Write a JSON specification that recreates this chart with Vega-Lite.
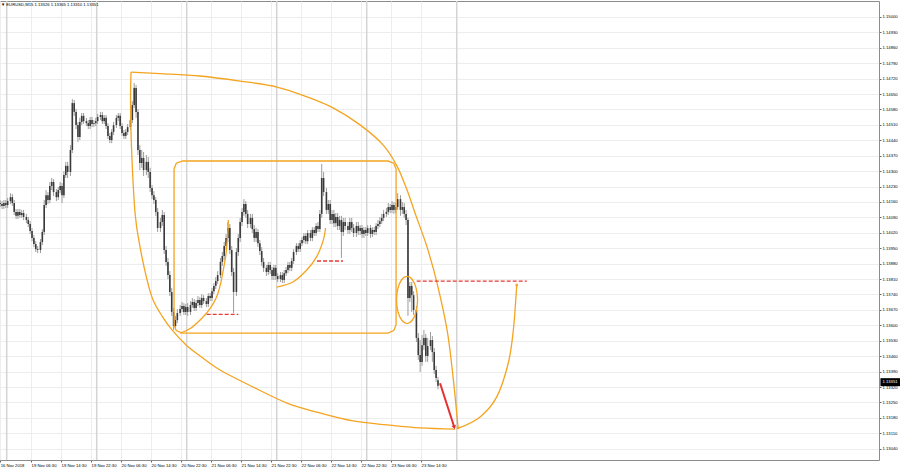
{
"$schema":"https://vega.github.io/schema/vega-lite/v6.json",
"width":879,"height":459,
"autosize":"none",
"padding":{"left":0,"top":1,"right":21,"bottom":10},
"background":"#ffffff",
"config":{"view":{"stroke":"#8c8c8c","strokeWidth":1}},
"title":{"text":"▼ EURUSD,M15  1.13326 1.13365 1.13310 1.13351","anchor":"start","frame":"group","orient":"top","baseline":"top","offset":-7,"dx":1,"fontSize":4.2,"font":"Liberation Sans","fontWeight":"normal","color":"#000000"},
"datasets":{
"seps":[{"t":0},{"t":96},{"t":192},{"t":288},{"t":384},{"t":480}],
"candles":[
{"t":-7,"o":1.14155,"h":1.14169,"l":1.14137,"c":1.14151},
{"t":-5,"o":1.14151,"h":1.14164,"l":1.14128,"c":1.14142},
{"t":-3,"o":1.14142,"h":1.14169,"l":1.14128,"c":1.14155},
{"t":-1,"o":1.14155,"h":1.14169,"l":1.14133,"c":1.14146},
{"t":1,"o":1.14146,"h":1.14178,"l":1.14133,"c":1.14164},
{"t":4,"o":1.14164,"h":1.142,"l":1.14151,"c":1.14182},
{"t":6,"o":1.14182,"h":1.14196,"l":1.14142,"c":1.14155},
{"t":8,"o":1.14155,"h":1.14169,"l":1.14101,"c":1.14115},
{"t":10,"o":1.14115,"h":1.14128,"l":1.14083,"c":1.14097},
{"t":12,"o":1.14097,"h":1.14128,"l":1.14083,"c":1.14115},
{"t":14,"o":1.14115,"h":1.14128,"l":1.14088,"c":1.14101},
{"t":16,"o":1.14101,"h":1.14124,"l":1.14088,"c":1.1411},
{"t":18,"o":1.1411,"h":1.14124,"l":1.14078,"c":1.14092},
{"t":21,"o":1.14092,"h":1.14106,"l":1.14064,"c":1.14078},
{"t":23,"o":1.14078,"h":1.14092,"l":1.14046,"c":1.1406},
{"t":25,"o":1.1406,"h":1.14073,"l":1.14015,"c":1.14028},
{"t":27,"o":1.14028,"h":1.14042,"l":1.13982,"c":1.13997},
{"t":29,"o":1.13997,"h":1.1401,"l":1.13955,"c":1.13969},
{"t":31,"o":1.13969,"h":1.13982,"l":1.13933,"c":1.13946},
{"t":33,"o":1.13946,"h":1.1396,"l":1.13928,"c":1.13942},
{"t":36,"o":1.13942,"h":1.13992,"l":1.13928,"c":1.13978},
{"t":38,"o":1.13978,"h":1.14037,"l":1.13964,"c":1.14024},
{"t":40,"o":1.14024,"h":1.14169,"l":1.1401,"c":1.14146},
{"t":42,"o":1.14146,"h":1.14214,"l":1.14133,"c":1.14191},
{"t":44,"o":1.14191,"h":1.14205,"l":1.14151,"c":1.14169},
{"t":46,"o":1.14169,"h":1.14251,"l":1.14155,"c":1.14233},
{"t":48,"o":1.14233,"h":1.14269,"l":1.14214,"c":1.14251},
{"t":50,"o":1.14251,"h":1.14264,"l":1.14187,"c":1.14205},
{"t":53,"o":1.14205,"h":1.14219,"l":1.14164,"c":1.14182},
{"t":55,"o":1.14182,"h":1.14228,"l":1.14169,"c":1.14214},
{"t":57,"o":1.14214,"h":1.14251,"l":1.142,"c":1.14233},
{"t":59,"o":1.14233,"h":1.14246,"l":1.14155,"c":1.14191},
{"t":61,"o":1.14191,"h":1.143,"l":1.14178,"c":1.14282},
{"t":63,"o":1.14282,"h":1.14342,"l":1.14269,"c":1.14324},
{"t":65,"o":1.14324,"h":1.14342,"l":1.14269,"c":1.14296},
{"t":68,"o":1.14296,"h":1.14418,"l":1.14278,"c":1.14396},
{"t":70,"o":1.14396,"h":1.14627,"l":1.14382,"c":1.14609},
{"t":72,"o":1.14609,"h":1.14623,"l":1.14551,"c":1.14569},
{"t":74,"o":1.14569,"h":1.14582,"l":1.14491,"c":1.14509},
{"t":76,"o":1.14509,"h":1.14523,"l":1.14432,"c":1.14455},
{"t":78,"o":1.14455,"h":1.14542,"l":1.14441,"c":1.14523},
{"t":80,"o":1.14523,"h":1.14564,"l":1.14509,"c":1.14551},
{"t":82,"o":1.14551,"h":1.14564,"l":1.14514,"c":1.14527},
{"t":85,"o":1.14527,"h":1.14542,"l":1.14505,"c":1.14518},
{"t":87,"o":1.14518,"h":1.14532,"l":1.14491,"c":1.14505},
{"t":89,"o":1.14505,"h":1.14546,"l":1.14491,"c":1.14532},
{"t":91,"o":1.14532,"h":1.14546,"l":1.145,"c":1.14514},
{"t":93,"o":1.14514,"h":1.14532,"l":1.145,"c":1.14518},
{"t":95,"o":1.14518,"h":1.14542,"l":1.14505,"c":1.14527},
{"t":97,"o":1.14527,"h":1.1456,"l":1.14514,"c":1.14546},
{"t":100,"o":1.14546,"h":1.14569,"l":1.14532,"c":1.14555},
{"t":102,"o":1.14555,"h":1.14569,"l":1.14514,"c":1.14527},
{"t":104,"o":1.14527,"h":1.14555,"l":1.14514,"c":1.14542},
{"t":106,"o":1.14542,"h":1.14555,"l":1.14491,"c":1.14505},
{"t":108,"o":1.14505,"h":1.14518,"l":1.14446,"c":1.1446},
{"t":110,"o":1.1446,"h":1.14473,"l":1.14427,"c":1.14441},
{"t":112,"o":1.14441,"h":1.14491,"l":1.14427,"c":1.14478},
{"t":114,"o":1.14478,"h":1.14523,"l":1.14464,"c":1.14509},
{"t":117,"o":1.14509,"h":1.14555,"l":1.14496,"c":1.14542},
{"t":119,"o":1.14542,"h":1.14564,"l":1.14527,"c":1.14551},
{"t":121,"o":1.14551,"h":1.14564,"l":1.14491,"c":1.14505},
{"t":123,"o":1.14505,"h":1.14518,"l":1.1446,"c":1.14473},
{"t":125,"o":1.14473,"h":1.14487,"l":1.14446,"c":1.1446},
{"t":127,"o":1.1446,"h":1.14491,"l":1.14446,"c":1.14478},
{"t":129,"o":1.14478,"h":1.14514,"l":1.14464,"c":1.145},
{"t":132,"o":1.145,"h":1.14551,"l":1.14487,"c":1.14532},
{"t":134,"o":1.14532,"h":1.14618,"l":1.14518,"c":1.146},
{"t":136,"o":1.146,"h":1.147,"l":1.14587,"c":1.14678},
{"t":138,"o":1.14678,"h":1.14691,"l":1.14542,"c":1.14569},
{"t":140,"o":1.14569,"h":1.14582,"l":1.14373,"c":1.14396},
{"t":142,"o":1.14396,"h":1.14418,"l":1.14305,"c":1.14337},
{"t":144,"o":1.14337,"h":1.14396,"l":1.14315,"c":1.1436},
{"t":146,"o":1.1436,"h":1.14387,"l":1.14278,"c":1.14305},
{"t":149,"o":1.14305,"h":1.14373,"l":1.14282,"c":1.14342},
{"t":151,"o":1.14342,"h":1.14364,"l":1.14269,"c":1.14296},
{"t":153,"o":1.14296,"h":1.14315,"l":1.14205,"c":1.14224},
{"t":155,"o":1.14224,"h":1.14237,"l":1.14173,"c":1.14191},
{"t":157,"o":1.14191,"h":1.14209,"l":1.14151,"c":1.14169},
{"t":159,"o":1.14169,"h":1.14182,"l":1.14097,"c":1.14115},
{"t":161,"o":1.14115,"h":1.14133,"l":1.14024,"c":1.14042},
{"t":164,"o":1.14042,"h":1.14088,"l":1.14024,"c":1.14069},
{"t":166,"o":1.14069,"h":1.14124,"l":1.14051,"c":1.14101},
{"t":168,"o":1.14101,"h":1.14115,"l":1.13924,"c":1.13942},
{"t":170,"o":1.13942,"h":1.1396,"l":1.1387,"c":1.13888},
{"t":172,"o":1.13888,"h":1.13906,"l":1.1381,"c":1.13828},
{"t":174,"o":1.13828,"h":1.13846,"l":1.13733,"c":1.13751},
{"t":176,"o":1.13751,"h":1.1377,"l":1.13643,"c":1.13661},
{"t":178,"o":1.13661,"h":1.13679,"l":1.13579,"c":1.13597},
{"t":180,"o":1.13597,"h":1.13643,"l":1.13583,"c":1.13624},
{"t":182,"o":1.13624,"h":1.13674,"l":1.1361,"c":1.13656},
{"t":185,"o":1.13656,"h":1.13692,"l":1.13643,"c":1.13674},
{"t":187,"o":1.13674,"h":1.13706,"l":1.13661,"c":1.13688},
{"t":189,"o":1.13688,"h":1.13701,"l":1.13647,"c":1.13661},
{"t":191,"o":1.13661,"h":1.13697,"l":1.13647,"c":1.13683},
{"t":193,"o":1.13683,"h":1.13701,"l":1.13643,"c":1.13661},
{"t":196,"o":1.13661,"h":1.1371,"l":1.13647,"c":1.13692},
{"t":198,"o":1.13692,"h":1.13724,"l":1.13679,"c":1.13706},
{"t":200,"o":1.13706,"h":1.13719,"l":1.13665,"c":1.13679},
{"t":202,"o":1.13679,"h":1.13715,"l":1.13665,"c":1.13701},
{"t":204,"o":1.13701,"h":1.13733,"l":1.13688,"c":1.13715},
{"t":206,"o":1.13715,"h":1.13728,"l":1.13679,"c":1.13692},
{"t":208,"o":1.13692,"h":1.13742,"l":1.13679,"c":1.13724},
{"t":210,"o":1.13724,"h":1.13737,"l":1.13697,"c":1.1371},
{"t":213,"o":1.1371,"h":1.13724,"l":1.13683,"c":1.13697},
{"t":215,"o":1.13697,"h":1.13746,"l":1.13683,"c":1.13733},
{"t":217,"o":1.13733,"h":1.13746,"l":1.1371,"c":1.13724},
{"t":219,"o":1.13724,"h":1.1377,"l":1.1371,"c":1.13755},
{"t":221,"o":1.13755,"h":1.13792,"l":1.13742,"c":1.13779},
{"t":223,"o":1.13779,"h":1.13819,"l":1.13765,"c":1.13801},
{"t":225,"o":1.13801,"h":1.13846,"l":1.13788,"c":1.13828},
{"t":228,"o":1.13828,"h":1.13906,"l":1.13815,"c":1.13888},
{"t":230,"o":1.13888,"h":1.13933,"l":1.1387,"c":1.13915},
{"t":232,"o":1.13915,"h":1.13978,"l":1.13897,"c":1.1396},
{"t":234,"o":1.1396,"h":1.14015,"l":1.13942,"c":1.13997},
{"t":236,"o":1.13997,"h":1.14069,"l":1.13978,"c":1.14042},
{"t":238,"o":1.14042,"h":1.1406,"l":1.13924,"c":1.13942},
{"t":240,"o":1.13942,"h":1.1396,"l":1.13824,"c":1.13842},
{"t":242,"o":1.13842,"h":1.13861,"l":1.13656,"c":1.13751},
{"t":245,"o":1.13751,"h":1.13951,"l":1.13733,"c":1.13933},
{"t":247,"o":1.13933,"h":1.14015,"l":1.13915,"c":1.13997},
{"t":249,"o":1.13997,"h":1.14088,"l":1.13978,"c":1.14069},
{"t":251,"o":1.14069,"h":1.14133,"l":1.14051,"c":1.14115},
{"t":253,"o":1.14115,"h":1.14173,"l":1.14097,"c":1.14151},
{"t":255,"o":1.14151,"h":1.14164,"l":1.14088,"c":1.14106},
{"t":257,"o":1.14106,"h":1.14124,"l":1.14042,"c":1.1406},
{"t":260,"o":1.1406,"h":1.14106,"l":1.14042,"c":1.14088},
{"t":262,"o":1.14088,"h":1.14106,"l":1.14019,"c":1.14037},
{"t":264,"o":1.14037,"h":1.14055,"l":1.13978,"c":1.13997},
{"t":266,"o":1.13997,"h":1.14042,"l":1.13978,"c":1.14024},
{"t":268,"o":1.14024,"h":1.14037,"l":1.13955,"c":1.13973},
{"t":270,"o":1.13973,"h":1.13987,"l":1.13919,"c":1.13937},
{"t":272,"o":1.13937,"h":1.13955,"l":1.1387,"c":1.13888},
{"t":274,"o":1.13888,"h":1.13906,"l":1.13842,"c":1.13861},
{"t":277,"o":1.13861,"h":1.13874,"l":1.13824,"c":1.13842},
{"t":279,"o":1.13842,"h":1.13888,"l":1.13828,"c":1.13874},
{"t":281,"o":1.13874,"h":1.13888,"l":1.13833,"c":1.13851},
{"t":283,"o":1.13851,"h":1.13865,"l":1.13806,"c":1.13824},
{"t":285,"o":1.13824,"h":1.13874,"l":1.13806,"c":1.13861},
{"t":287,"o":1.13861,"h":1.13874,"l":1.13806,"c":1.13824},
{"t":289,"o":1.13824,"h":1.13837,"l":1.13797,"c":1.1381},
{"t":292,"o":1.1381,"h":1.13842,"l":1.13797,"c":1.13828},
{"t":294,"o":1.13828,"h":1.13842,"l":1.13792,"c":1.13806},
{"t":296,"o":1.13806,"h":1.13851,"l":1.13792,"c":1.13837},
{"t":298,"o":1.13837,"h":1.13865,"l":1.13824,"c":1.13851},
{"t":300,"o":1.13851,"h":1.13888,"l":1.13837,"c":1.13874},
{"t":302,"o":1.13874,"h":1.13888,"l":1.13846,"c":1.13861},
{"t":304,"o":1.13861,"h":1.13906,"l":1.13846,"c":1.13892},
{"t":306,"o":1.13892,"h":1.13946,"l":1.13879,"c":1.13933},
{"t":309,"o":1.13933,"h":1.13973,"l":1.13919,"c":1.1396},
{"t":311,"o":1.1396,"h":1.13973,"l":1.13933,"c":1.13946},
{"t":313,"o":1.13946,"h":1.13987,"l":1.13933,"c":1.13973},
{"t":315,"o":1.13973,"h":1.14001,"l":1.1396,"c":1.13987},
{"t":317,"o":1.13987,"h":1.14019,"l":1.13973,"c":1.14006},
{"t":319,"o":1.14006,"h":1.14019,"l":1.13969,"c":1.13982},
{"t":321,"o":1.13982,"h":1.14033,"l":1.13969,"c":1.14019},
{"t":324,"o":1.14019,"h":1.14033,"l":1.13982,"c":1.13997},
{"t":326,"o":1.13997,"h":1.14046,"l":1.13982,"c":1.14033},
{"t":328,"o":1.14033,"h":1.14046,"l":1.14006,"c":1.14019},
{"t":330,"o":1.14019,"h":1.14064,"l":1.14006,"c":1.14051},
{"t":332,"o":1.14051,"h":1.14069,"l":1.14024,"c":1.14037},
{"t":334,"o":1.14037,"h":1.14124,"l":1.14024,"c":1.14106},
{"t":336,"o":1.14106,"h":1.14333,"l":1.14088,"c":1.14269},
{"t":338,"o":1.14269,"h":1.14296,"l":1.14187,"c":1.14205},
{"t":341,"o":1.14205,"h":1.14224,"l":1.14106,"c":1.14124},
{"t":343,"o":1.14124,"h":1.14169,"l":1.14106,"c":1.14151},
{"t":345,"o":1.14151,"h":1.14169,"l":1.1406,"c":1.14078},
{"t":347,"o":1.14078,"h":1.14124,"l":1.1406,"c":1.14106},
{"t":349,"o":1.14106,"h":1.14124,"l":1.14046,"c":1.14064},
{"t":351,"o":1.14064,"h":1.1411,"l":1.14046,"c":1.14092},
{"t":353,"o":1.14092,"h":1.1411,"l":1.14033,"c":1.14051},
{"t":355,"o":1.14051,"h":1.14097,"l":1.14033,"c":1.14078},
{"t":357,"o":1.14078,"h":1.14097,"l":1.13906,"c":1.14024},
{"t":359,"o":1.14024,"h":1.14088,"l":1.14006,"c":1.14069},
{"t":361,"o":1.14069,"h":1.14088,"l":1.14033,"c":1.14051},
{"t":364,"o":1.14051,"h":1.14069,"l":1.14015,"c":1.14033},
{"t":366,"o":1.14033,"h":1.14088,"l":1.14015,"c":1.14069},
{"t":368,"o":1.14069,"h":1.14088,"l":1.14024,"c":1.14042},
{"t":370,"o":1.14042,"h":1.1406,"l":1.14001,"c":1.14019},
{"t":373,"o":1.14019,"h":1.14069,"l":1.14001,"c":1.14051},
{"t":375,"o":1.14051,"h":1.14069,"l":1.1401,"c":1.14028},
{"t":377,"o":1.14028,"h":1.14055,"l":1.1401,"c":1.14042},
{"t":379,"o":1.14042,"h":1.14055,"l":1.13997,"c":1.14015},
{"t":381,"o":1.14015,"h":1.14046,"l":1.13997,"c":1.14033},
{"t":383,"o":1.14033,"h":1.14046,"l":1.14006,"c":1.14019},
{"t":385,"o":1.14019,"h":1.14055,"l":1.14006,"c":1.14042},
{"t":388,"o":1.14042,"h":1.14055,"l":1.13997,"c":1.14015},
{"t":390,"o":1.14015,"h":1.14046,"l":1.14001,"c":1.14033},
{"t":392,"o":1.14033,"h":1.14046,"l":1.1401,"c":1.14024},
{"t":394,"o":1.14024,"h":1.14064,"l":1.1401,"c":1.14051},
{"t":396,"o":1.14051,"h":1.14078,"l":1.14037,"c":1.1406},
{"t":398,"o":1.1406,"h":1.14092,"l":1.14046,"c":1.14073},
{"t":400,"o":1.14073,"h":1.14106,"l":1.1406,"c":1.14088},
{"t":402,"o":1.14088,"h":1.14124,"l":1.14073,"c":1.14106},
{"t":405,"o":1.14106,"h":1.14133,"l":1.14092,"c":1.14115},
{"t":407,"o":1.14115,"h":1.14155,"l":1.14101,"c":1.14137},
{"t":409,"o":1.14137,"h":1.14151,"l":1.1411,"c":1.14124},
{"t":411,"o":1.14124,"h":1.14164,"l":1.1411,"c":1.14146},
{"t":413,"o":1.14146,"h":1.1416,"l":1.14106,"c":1.14124},
{"t":415,"o":1.14124,"h":1.14155,"l":1.1411,"c":1.14137},
{"t":417,"o":1.14137,"h":1.142,"l":1.14124,"c":1.14173},
{"t":420,"o":1.14173,"h":1.14191,"l":1.14097,"c":1.14124},
{"t":422,"o":1.14124,"h":1.1416,"l":1.14106,"c":1.14137},
{"t":424,"o":1.14137,"h":1.14155,"l":1.14088,"c":1.14106},
{"t":426,"o":1.14106,"h":1.14124,"l":1.14055,"c":1.14078},
{"t":428,"o":1.14078,"h":1.14088,"l":1.13643,"c":1.13724},
{"t":430,"o":1.13724,"h":1.13797,"l":1.13706,"c":1.13779},
{"t":432,"o":1.13779,"h":1.13797,"l":1.13661,"c":1.13737},
{"t":434,"o":1.13737,"h":1.13755,"l":1.13647,"c":1.1367},
{"t":437,"o":1.1367,"h":1.13688,"l":1.13524,"c":1.13543},
{"t":439,"o":1.13543,"h":1.13565,"l":1.13443,"c":1.13465},
{"t":441,"o":1.13465,"h":1.13533,"l":1.13388,"c":1.13434},
{"t":443,"o":1.13434,"h":1.13556,"l":1.13416,"c":1.1351},
{"t":445,"o":1.1351,"h":1.13579,"l":1.13488,"c":1.13543},
{"t":447,"o":1.13543,"h":1.13561,"l":1.13434,"c":1.13461},
{"t":449,"o":1.13461,"h":1.13543,"l":1.13434,"c":1.13506},
{"t":452,"o":1.13506,"h":1.1357,"l":1.13488,"c":1.13533},
{"t":454,"o":1.13533,"h":1.13552,"l":1.13434,"c":1.13479},
{"t":456,"o":1.13479,"h":1.13497,"l":1.13379,"c":1.13397},
{"t":458,"o":1.13397,"h":1.13416,"l":1.13343,"c":1.13361},
{"t":460,"o":1.13326,"h":1.13365,"l":1.1331,"c":1.13351}
],
"curves":[
{"shape":"lensTop","i":0,"t":132.6,"p":1.1475},
{"shape":"lensTop","i":1,"t":163.5,"p":1.14743},
{"shape":"lensTop","i":2,"t":206.2,"p":1.14732},
{"shape":"lensTop","i":3,"t":248.9,"p":1.14709},
{"shape":"lensTop","i":4,"t":288.3,"p":1.14682},
{"shape":"lensTop","i":5,"t":320.3,"p":1.14637},
{"shape":"lensTop","i":6,"t":348.1,"p":1.14587},
{"shape":"lensTop","i":7,"t":376.9,"p":1.1451},
{"shape":"lensTop","i":8,"t":401.4,"p":1.14419},
{"shape":"lensTop","i":9,"t":416.3,"p":1.14323},
{"shape":"lensTop","i":10,"t":427.0,"p":1.14214},
{"shape":"lensTop","i":11,"t":435.5,"p":1.1411},
{"shape":"lensTop","i":12,"t":448.3,"p":1.13956},
{"shape":"lensTop","i":13,"t":459.0,"p":1.13792},
{"shape":"lensTop","i":14,"t":469.7,"p":1.13579},
{"shape":"lensTop","i":15,"t":476.1,"p":1.13365},
{"shape":"lensTop","i":16,"t":481.4,"p":1.13138},
{"shape":"lensBottom","i":0,"t":132.6,"p":1.1475},
{"shape":"lensBottom","i":1,"t":132.1,"p":1.14623},
{"shape":"lensBottom","i":2,"t":133.1,"p":1.1441},
{"shape":"lensBottom","i":3,"t":136.9,"p":1.1411},
{"shape":"lensBottom","i":4,"t":142.2,"p":1.13956},
{"shape":"lensBottom","i":5,"t":149.7,"p":1.13806},
{"shape":"lensBottom","i":6,"t":156.1,"p":1.13715},
{"shape":"lensBottom","i":7,"t":165.7,"p":1.13642},
{"shape":"lensBottom","i":8,"t":176.3,"p":1.13579},
{"shape":"lensBottom","i":9,"t":191.3,"p":1.13511},
{"shape":"lensBottom","i":10,"t":206.2,"p":1.13461},
{"shape":"lensBottom","i":11,"t":227.5,"p":1.13397},
{"shape":"lensBottom","i":12,"t":262.7,"p":1.1332},
{"shape":"lensBottom","i":13,"t":299.0,"p":1.13247},
{"shape":"lensBottom","i":14,"t":334.2,"p":1.13202},
{"shape":"lensBottom","i":15,"t":369.4,"p":1.13166},
{"shape":"lensBottom","i":16,"t":405.7,"p":1.13148},
{"shape":"lensBottom","i":17,"t":440.9,"p":1.13134},
{"shape":"lensBottom","i":18,"t":478.2,"p":1.13129},
{"shape":"arc1","i":0,"t":184.9,"p":1.13564},
{"shape":"arc1","i":1,"t":196.6,"p":1.13588},
{"shape":"arc1","i":2,"t":209.7,"p":1.13639},
{"shape":"arc1","i":3,"t":217.9,"p":1.13683},
{"shape":"arc1","i":4,"t":224.0,"p":1.1373},
{"shape":"arc1","i":5,"t":228.1,"p":1.13788},
{"shape":"arc1","i":6,"t":231.0,"p":1.13851},
{"shape":"arc1","i":7,"t":233.4,"p":1.1391},
{"shape":"arc1","i":8,"t":234.7,"p":1.13957},
{"shape":"arc1","i":9,"t":235.8,"p":1.14019},
{"shape":"arc1","i":10,"t":236.4,"p":1.14078},
{"shape":"arc2","i":0,"t":288.0,"p":1.13773},
{"shape":"arc2","i":1,"t":305.7,"p":1.13798},
{"shape":"arc2","i":2,"t":320.0,"p":1.13851},
{"shape":"arc2","i":3,"t":330.7,"p":1.13912},
{"shape":"arc2","i":4,"t":337.7,"p":1.13987},
{"shape":"arc2","i":5,"t":340.1,"p":1.14042},
{"shape":"rebound","i":0,"t":482.5,"p":1.13134},
{"shape":"rebound","i":1,"t":504.9,"p":1.13184},
{"shape":"rebound","i":2,"t":522.7,"p":1.13275},
{"shape":"rebound","i":3,"t":535.0,"p":1.13429},
{"shape":"rebound","i":4,"t":540.4,"p":1.13579},
{"shape":"rebound","i":5,"t":544.0,"p":1.13783}
],
"box":[
{"i":0,"t":187.0,"p":1.14346},
{"i":1,"t":406.7,"p":1.14346},
{"i":2,"t":412.8,"p":1.14336},
{"i":3,"t":415.3,"p":1.1431},
{"i":4,"t":415.3,"p":1.13602},
{"i":5,"t":412.8,"p":1.13576},
{"i":6,"t":406.7,"p":1.13565},
{"i":7,"t":187.0,"p":1.13565},
{"i":8,"t":180.9,"p":1.13576},
{"i":9,"t":178.5,"p":1.13602},
{"i":10,"t":178.5,"p":1.1431},
{"i":11,"t":180.9,"p":1.14336},
{"i":12,"t":187.0,"p":1.14346}
],
"ellipse":[
{"i":0,"t":438.2,"p":1.13715},
{"i":1,"t":436.7,"p":1.13768},
{"i":2,"t":432.6,"p":1.13808},
{"i":3,"t":427.0,"p":1.13822},
{"i":4,"t":421.4,"p":1.13808},
{"i":5,"t":417.3,"p":1.13768},
{"i":6,"t":415.8,"p":1.13715},
{"i":7,"t":417.3,"p":1.13662},
{"i":8,"t":421.4,"p":1.13623},
{"i":9,"t":427.0,"p":1.13608},
{"i":10,"t":432.6,"p":1.13623},
{"i":11,"t":436.7,"p":1.13662}
],
"levels":[
{"t":213.3,"t2":247.0,"p":1.1365},
{"t":331.0,"t2":358.7,"p":1.13892},
{"t":437.3,"t2":554.7,"p":1.13801}
],
"arrow":[{"t":462.2,"p":1.13337,"t2":477.4,"p2":1.13137}],
"arrowhead":[{"t":477.4,"p":1.13137}],
"ends":[{"t":481.4,"p":1.13134},{"t":544.0,"p":1.13783}],
"last":[{"t":933,"p":1.13351,"label":"1.13351"}]
},
"encoding":{
"x":{"field":"t","type":"quantitative","title":null,
"scale":{"domain":[-7.15,930.4],"nice":false,"zero":false},
"axis":{"orient":"bottom","values":[-7,26,58,90,122,154,186,218,250,282,314,346,378,410,442],"tickCount":100,
"labelExpr":"datum.value < 0 ? '16 Nov 2018' : utcFormat(utc(2018,10,19) + datum.value*900000, '%d %b %H:%M')",
"labelAlign":"left","labelBaseline":"top","labelFontSize":4.2,"labelFont":"Liberation Sans","labelColor":"#000000","labelPadding":1,
"tickSize":2,"tickColor":"#666666","domain":false,"grid":true,"gridColor":"#ededed","gridWidth":1,"labelOverlap":false,"labelFlush":false,"title":null}}
},
"layer":[
{"data":{"name":"seps"},"mark":{"type":"rule","color":"#d4d4d4","strokeWidth":1.5},"encoding":{}},
{"data":{"name":"candles"},"mark":{"type":"rule","color":"#9c9c9c","strokeWidth":1},
 "encoding":{"y":{"field":"l","type":"quantitative","title":null,"scale":{"domain":[1.129886,1.150725],"nice":false,"zero":false},
   "axis":{"orient":"right","values":[1.1304,1.1311,1.1318,1.1325,1.1332,1.1339,1.1346,1.1353,1.136,1.1367,1.1374,1.1381,1.1388,1.1395,1.1402,1.1409,1.1416,1.1423,1.143,1.1437,1.1444,1.1451,1.1458,1.1465,1.1472,1.1479,1.1486,1.1493,1.15],"tickCount":100,
   "format":".5f","labelFontSize":4.2,"labelFont":"Liberation Sans","labelColor":"#000000","labelPadding":1,"labelBaseline":"middle",
   "tickSize":2,"tickColor":"#666666","domain":false,"grid":true,"gridColor":"#ededed","gridWidth":1,"labelOverlap":false,"labelFlush":false,"title":null}},
  "y2":{"field":"h"}}},
{"data":{"name":"candles"},"mark":{"type":"rule","color":"#3a3a3a","strokeWidth":1.6},
 "encoding":{"y":{"field":"o","type":"quantitative","title":null},"y2":{"field":"c"}}},
{"data":{"name":"curves"},"mark":{"type":"line","color":"#f4a421","strokeWidth":1.3,"interpolate":"cardinal"},
 "encoding":{"y":{"field":"p","type":"quantitative","title":null},"detail":{"field":"shape"},"order":{"field":"i","type":"quantitative"}}},
{"data":{"name":"box"},"mark":{"type":"line","color":"#f4a421","strokeWidth":1.3,"interpolate":"linear"},
 "encoding":{"y":{"field":"p","type":"quantitative","title":null},"order":{"field":"i","type":"quantitative"}}},
{"data":{"name":"ellipse"},"mark":{"type":"line","color":"#f4a421","strokeWidth":1.3,"interpolate":"cardinal-closed"},
 "encoding":{"y":{"field":"p","type":"quantitative","title":null},"order":{"field":"i","type":"quantitative"}}},
{"data":{"name":"levels"},"mark":{"type":"rule","color":"#e53935","strokeWidth":1.3,"strokeDash":[4,2]},
 "encoding":{"x2":{"field":"t2"},"y":{"field":"p","type":"quantitative","title":null}}},
{"data":{"name":"arrow"},"mark":{"type":"rule","color":"#e53030","strokeWidth":2},
 "encoding":{"x2":{"field":"t2"},"y":{"field":"p","type":"quantitative","title":null},"y2":{"field":"p2"}}},
{"data":{"name":"arrowhead"},"mark":{"type":"point","shape":"triangle-down","filled":true,"color":"#e53030","size":22,"angle":342,"opacity":1},
 "encoding":{"y":{"field":"p","type":"quantitative","title":null}}},
{"data":{"name":"ends"},"mark":{"type":"point","shape":"square","filled":true,"color":"#f4a421","size":6,"opacity":1},
 "encoding":{"y":{"field":"p","type":"quantitative","title":null}}},
{"data":{"name":"last"},"mark":{"type":"tick","orient":"horizontal","color":"#000000","size":22,"thickness":8,"xOffset":10,"yOffset":2,"opacity":1},
 "encoding":{"y":{"field":"p","type":"quantitative","title":null}}},
{"data":{"name":"last"},"mark":{"type":"text","color":"#ffffff","fontSize":4.2,"font":"Liberation Sans","align":"left","baseline":"middle","dx":1,"dy":2},
 "encoding":{"y":{"field":"p","type":"quantitative","title":null},"text":{"field":"label"}}}
]
}
